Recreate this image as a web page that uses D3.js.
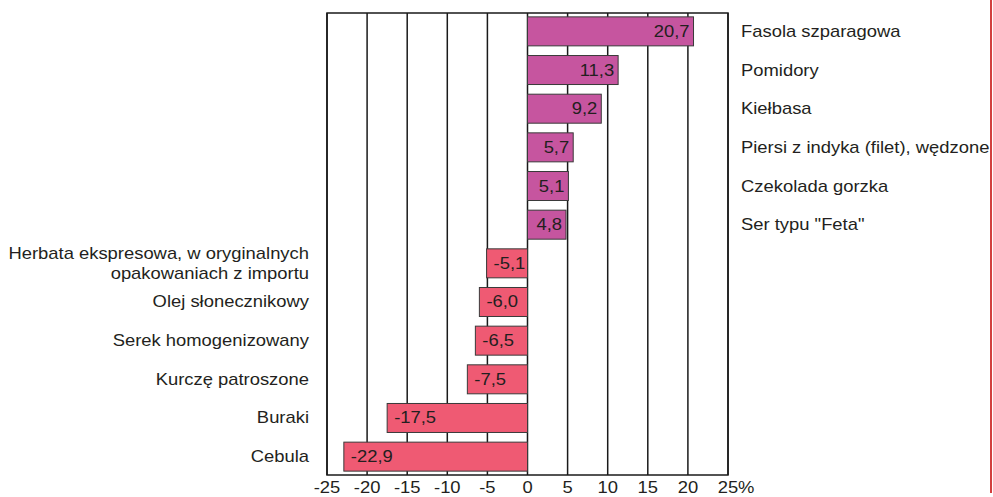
<!DOCTYPE html>
<html>
<head>
<meta charset="utf-8">
<script src="https://cdn.jsdelivr.net/npm/d3@7"></script>
<style>
  body { margin: 0; background: #fff; }
  text { font-family: "Liberation Sans", Arial, sans-serif; fill: #231f20; }
</style>
</head>
<body>
<div id="container"></div>
<script>
let w = 993;
let h = 497;

// data
let categories = [
  "Fasola szparagowa",
  "Pomidory",
  "Kiełbasa",
  "Piersi z indyka (filet), wędzone",
  "Czekolada gorzka",
  "Ser typu \"Feta\"",
  "Herbata ekspresowa, w oryginalnych|opakowaniach z importu",
  "Olej słonecznikowy",
  "Serek homogenizowany",
  "Kurczę patroszone",
  "Buraki",
  "Cebula"
];
let values = [20.7, 11.3, 9.2, 5.7, 5.1, 4.8, -5.1, -6.0, -6.5, -7.5, -17.5, -22.9];
let tickValues = [-25, -20, -15, -10, -5, 0, 5, 10, 15, 20, 25];

let data = categories.map((c, i) => ({name: c, value: values[i]}));

let plotLeft = 327, plotRight = 728, plotTop = 13, plotBottom = 475;
let sx = 1.15; // text looks stretched sideways

let x = d3.scaleLinear().domain([-25, 25]).range([plotLeft, plotRight]);
let y = d3.scaleBand().domain(categories).range([plotTop, plotBottom])
  .paddingInner(0.25).paddingOuter(0.1);

let fmt = v => d3.format(".1f")(v).replace(".", ",").replace("−", "-");

let viz = d3.select("#container")
  .append("svg")
    .attr("width", w)
    .attr("height", h);

// gridlines
viz.append("g")
  .selectAll("line")
  .data(tickValues)
  .join("line")
    .attr("x1", d => x(d))
    .attr("x2", d => x(d))
    .attr("y1", plotTop)
    .attr("y2", plotBottom)
    .attr("stroke", "#1a1a1a")
    .attr("stroke-width", 1.5);

// frame
viz.append("rect")
  .attr("x", plotLeft).attr("y", plotTop)
  .attr("width", plotRight - plotLeft).attr("height", plotBottom - plotTop)
  .attr("fill", "none")
  .attr("stroke", "#1a1a1a")
  .attr("stroke-width", 1.5);

// bars
viz.append("g")
  .selectAll("rect")
  .data(data)
  .join("rect")
    .attr("x", d => x(Math.min(0, d.value)))
    .attr("y", d => y(d.name))
    .attr("width", d => Math.abs(x(d.value) - x(0)))
    .attr("height", y.bandwidth())
    .attr("fill", d => d.value > 0 ? "#c6559f" : "#ef5a73")
    .attr("stroke", "#3a3a3a")
    .attr("stroke-width", 1);

// value labels inside bars
viz.append("g")
  .selectAll("text")
  .data(data)
  .join("text")
    .attr("text-anchor", d => d.value > 0 ? "end" : "start")
    .attr("transform", d => {
      let tx = d.value > 0 ? x(d.value) - 4 : x(d.value) + 7;
      let ty = y(d.name) + y.bandwidth() / 2 + 5.5;
      return `translate(${tx},${ty}) scale(${sx},1)`;
    })
    .style("font-size", "16px")
    .text(d => fmt(d.value));

// category labels
let labels = viz.append("g")
  .selectAll("text")
  .data(data)
  .join("text")
    .attr("text-anchor", d => d.value > 0 ? "start" : "end")
    .attr("transform", d => {
      let tx = d.value > 0 ? 741 : 309;
      let ty = y(d.name) + y.bandwidth() / 2 + 5.5;
      return `translate(${tx},${ty}) scale(${sx},1)`;
    })
    .style("font-size", "16px");

labels.each(function(d) {
  let lines = d.name.split("|");
  let t = d3.select(this);
  lines.forEach((ln, i) => {
    t.append("tspan")
      .attr("x", 0)
      .attr("y", (i - (lines.length - 1) / 2) * 20)
      .text(ln);
  });
});

// x axis labels
let axisG = viz.append("g");
axisG.selectAll("text")
  .data(tickValues)
  .join("text")
    .attr("text-anchor", "middle")
    .attr("transform", d => `translate(${x(d)},493) scale(${sx},1)`)
    .style("font-size", "16px")
    .text(d => d);

axisG.append("text")
  .attr("transform", `translate(${x(25) + 10},493) scale(${sx},1)`)
  .style("font-size", "16px")
  .text("%");

// red rule at right edge
viz.append("line")
  .attr("x1", 991).attr("x2", 991)
  .attr("y1", 0).attr("y2", 493)
  .attr("stroke", "#d2403f")
  .attr("stroke-width", 2);
</script>
</body>
</html>
